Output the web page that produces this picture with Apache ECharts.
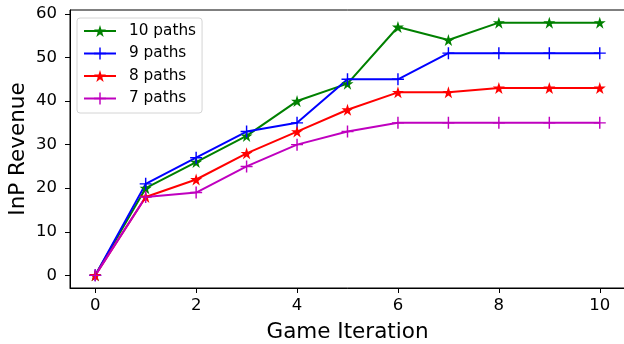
<!DOCTYPE html>
<html>
<head>
<meta charset="utf-8">
<script src="https://cdn.jsdelivr.net/npm/echarts@6/dist/echarts.min.js"></script>
<style>
  html, body { margin: 0; padding: 0; background: #fff; }
  #chart { width: 624px; height: 344px; }
</style>
</head>
<body>
<div id="chart"></div>
<script>
// Revenue per game iteration for different numbers of paths
const iterations = [0, 1, 2, 3, 4, 5, 6, 7, 8, 9, 10];
const paths10 = [0, 20, 26, 32, 40, 44, 57, 54, 58, 58, 58];
const paths9  = [0, 21, 27, 33, 35, 45, 45, 51, 51, 51, 51];
const paths8  = [0, 18, 22, 28, 33, 38, 42, 42, 43, 43, 43];
const paths7  = [0, 18, 19, 25, 30, 33, 35, 35, 35, 35, 35];
const xTicks = [0, 2, 4, 6, 8, 10];
const yTicks = [0, 10, 20, 30, 40, 50, 60];

const FONT = 'DejaVu Sans';
const STAR = 'path://M0,-1L0.2245,-0.309L0.951,-0.309L0.363,0.118L0.588,0.809L0,0.382L-0.588,0.809L-0.363,0.118L-0.951,-0.309L-0.2245,-0.309Z';
const PLUS = 'path://M-1,-0.12H-0.12V-1H0.12V-0.12H1V0.12H0.12V1H-0.12V0.12H-1Z';

function pairs(vals) { return iterations.map((x, i) => [x, vals[i]]); }

function makeSeries(name, vals, color, symbol, size) {
  return {
    name: name,
    type: 'line',
    data: pairs(vals),
    symbol: symbol,
    symbolSize: size,
    showAllSymbol: true,
    lineStyle: { color: color, width: 2 },
    itemStyle: { color: color },
    emphasis: { disabled: true },
    animation: false
  };
}

const chart = echarts.init(document.getElementById('chart'), null, { renderer: 'canvas' });
chart.setOption({
  backgroundColor: '#fff',
  animation: false,
  grid: {
    left: 70, right: -1, top: 10, bottom: 56,
    outerBoundsMode: 'none', containLabel: false,
    show: true, borderColor: '#000', borderWidth: 1, backgroundColor: 'transparent'
  },
  legend: {
    left: 77, top: 18,
    orient: 'vertical',
    itemWidth: 32, itemHeight: 15, itemGap: 7.5,
    padding: [5.5, 6, 7, 6],
    backgroundColor: '#fff',
    borderColor: '#d4d4d4', borderWidth: 1, borderRadius: 3,
    textStyle: { fontFamily: FONT, fontSize: 15.3, lineHeight: 15, color: '#000', padding: [0, 0, 0, 8] },
    data: ['10 paths', '9 paths', '8 paths', '7 paths']
  },
  xAxis: {
    type: 'value', min: -0.5, max: 10.5,
    name: 'Game Iteration', nameLocation: 'middle', nameGap: 33, nameMoveOverlap: false,
    nameTextStyle: { fontFamily: FONT, fontSize: 21.5, color: '#000' },
    splitLine: { show: false },
    axisLine: { show: true, onZero: false, lineStyle: { color: '#000', width: 1 } },
    axisTick: { show: true, length: 5, lineStyle: { color: '#000' }, customValues: xTicks },
    axisLabel: { fontFamily: FONT, fontSize: 16.5, color: '#000', margin: 9.5, customValues: xTicks }
  },
  yAxis: {
    type: 'value', min: -2.9, max: 60.9,
    name: 'InP Revenue', nameLocation: 'middle', nameGap: 41, nameRotate: 90, nameMoveOverlap: false,
    nameTextStyle: { fontFamily: FONT, fontSize: 21.5, color: '#000' },
    splitLine: { show: false },
    axisLine: { show: true, onZero: false, lineStyle: { color: '#000', width: 1 } },
    axisTick: { show: true, length: 5, lineStyle: { color: '#000' }, customValues: yTicks },
    axisLabel: { fontFamily: FONT, fontSize: 16.5, color: '#000', margin: 13, customValues: yTicks }
  },
  series: [
    makeSeries('10 paths', paths10, '#008000', STAR, 12),
    makeSeries('9 paths', paths9, '#0000ff', PLUS, 12),
    makeSeries('8 paths', paths8, '#ff0000', STAR, 12),
    makeSeries('7 paths', paths7, '#bf00bf', PLUS, 12)
  ]
});
</script>
</body>
</html>
